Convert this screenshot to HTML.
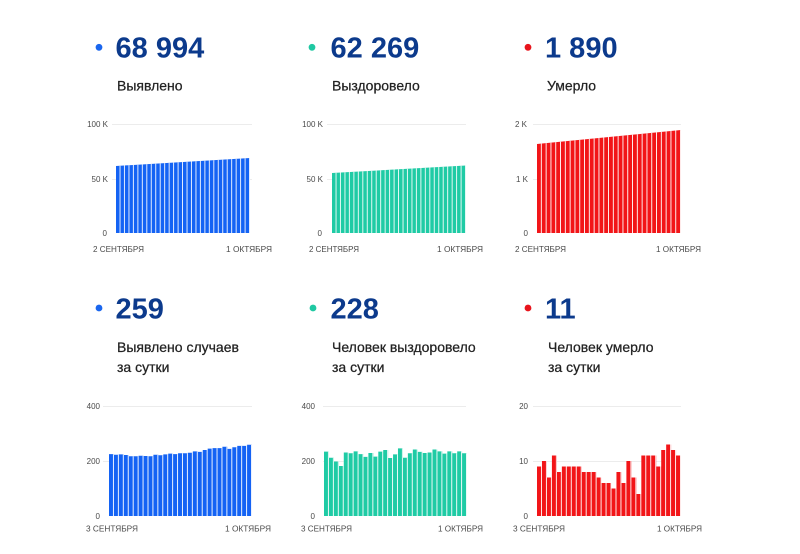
<!DOCTYPE html>
<html>
<head>
<meta charset="utf-8">
<style>
  html,body{margin:0;padding:0;background:#fff;}
  svg{display:block;}
  .num{font-family:"Liberation Sans",Arial,sans-serif;font-weight:bold;font-size:29px;fill:#0c3a8c;}
  .lbl{font-family:"Liberation Sans",Arial,sans-serif;font-size:14px;fill:#222;stroke:#222;stroke-width:0.25px;}
  .tk{font-family:"Liberation Sans",Arial,sans-serif;font-size:8px;fill:#4a4a4a;}
  .grid{stroke:#ececec;stroke-width:1;}
</style>
</head>
<body>
<svg width="800" height="554" viewBox="0 0 800 554" xmlns="http://www.w3.org/2000/svg">
  <defs>
    <pattern id="pB1" patternUnits="userSpaceOnUse" x="116" y="0" width="4.4667" height="554"><rect x="3.6" y="0" width="0.87" height="554" fill="#fff"/></pattern>
    <pattern id="pG1" patternUnits="userSpaceOnUse" x="332" y="0" width="4.4667" height="554"><rect x="3.6" y="0" width="0.87" height="554" fill="#fff"/></pattern>
    <pattern id="pR1" patternUnits="userSpaceOnUse" x="537" y="0" width="4.8" height="554"><rect x="3.9" y="0" width="0.9" height="554" fill="#fff"/></pattern>
    <pattern id="pB2" patternUnits="userSpaceOnUse" x="109" y="0" width="4.931" height="554"><rect x="4.03" y="0" width="0.9" height="554" fill="#fff"/></pattern>
    <pattern id="pG2" patternUnits="userSpaceOnUse" x="324" y="0" width="4.931" height="554"><rect x="4.03" y="0" width="0.9" height="554" fill="#fff"/></pattern>
    <pattern id="pR2" patternUnits="userSpaceOnUse" x="537" y="0" width="4.9655" height="554"><rect x="4.06" y="0" width="0.9" height="554" fill="#fff"/></pattern>

    <path id="b1" d="M116,233 L116,166 L250,158 L250,233 Z"/>
    <path id="g1" d="M332,233 L332,173 L466,165.5 L466,233 Z"/>
    <path id="r1" d="M537,233 L537,144 L681,130 L681,233 Z"/>
    <path id="b2" d="M109,516 V454.1 H113.93 V454.7 H118.86 V454.4 H123.79 V455 H128.72 V456.3 H133.66 V456.3 H138.59 V455.8 H143.52 V456.05 H148.45 V456.3 H153.38 V454.7 H158.31 V455.2 H163.24 V454.4 H168.17 V453.6 H173.1 V454.1 H178.03 V453.3 H182.97 V453.3 H187.9 V452.75 H192.83 V451.4 H197.76 V451.9 H202.69 V450 H207.62 V448.6 H212.55 V448.1 H217.48 V448.1 H222.41 V446.7 H227.34 V448.9 H232.28 V447.25 H237.21 V445.9 H242.14 V445.9 H247.07 V444.8 H252 V516 Z"/>
    <path id="g2" d="M324,516 V451.65 H328.93 V457.7 H333.86 V461.55 H338.79 V465.95 H343.72 V452.5 H348.66 V453.3 H353.59 V451.4 H358.52 V454.1 H363.45 V456.9 H368.38 V453 H373.31 V456.6 H378.24 V451.65 H383.17 V450 H388.1 V458 H393.03 V454.4 H397.97 V448.35 H402.9 V457.7 H407.83 V453.3 H412.76 V449.45 H417.69 V451.9 H422.62 V453 H427.55 V452.5 H432.48 V449.45 H437.41 V451.4 H442.34 V453.6 H447.28 V451.4 H452.21 V453.3 H457.14 V451.4 H462.07 V453.3 H467 V516 Z"/>
    <path id="r2" d="M537,516 V466.5 H541.97 V461 H546.93 V477.5 H551.9 V455.5 H556.86 V472 H561.83 V466.5 H566.79 V466.5 H571.76 V466.5 H576.73 V466.5 H581.69 V472 H586.66 V472 H591.62 V472 H596.59 V477.5 H601.55 V483 H606.52 V483 H611.49 V488.5 H616.45 V472 H621.42 V483 H626.38 V461 H631.35 V477.5 H636.31 V494 H641.28 V455.5 H646.24 V455.5 H651.21 V455.5 H656.18 V466.5 H661.14 V450 H666.11 V444.5 H671.07 V450 H676.04 V455.5 H681 V516 Z"/>
  </defs>

  <!-- ============ TOP ROW HEADERS ============ -->
  <circle cx="99" cy="47.3" r="3.4" fill="#1a66ee"/>
  <text class="num" x="115.5" y="57.5">68 994</text>
  <text class="lbl" x="117" y="90.5">Выявлено</text>

  <circle cx="312" cy="47.3" r="3.4" fill="#1fc8a2"/>
  <text class="num" x="330.5" y="57.5">62 269</text>
  <text class="lbl" x="332" y="90.5">Выздоровело</text>

  <circle cx="528" cy="47.3" r="3.4" fill="#e8141c"/>
  <text class="num" x="545" y="57.5">1 890</text>
  <text class="lbl" x="547" y="90.5">Умерло</text>

  <!-- ============ TOP CHARTS ============ -->
  <line class="grid" x1="112" y1="124.5" x2="252" y2="124.5"/>
  <line class="grid" x1="112" y1="179.5" x2="252" y2="179.5"/>
  <use href="#b1" fill="#1463f4"/>
  <use href="#b1" fill="url(#pB1)"/>
  <text class="tk" x="108" y="127" text-anchor="end">100 K</text>
  <text class="tk" x="108" y="182" text-anchor="end">50 K</text>
  <text class="tk" x="107" y="236" text-anchor="end">0</text>
  <text class="tk" x="93" y="252" textLength="51" lengthAdjust="spacingAndGlyphs">2 СЕНТЯБРЯ</text>
  <text class="tk" x="226" y="252" textLength="46" lengthAdjust="spacingAndGlyphs">1 ОКТЯБРЯ</text>

  <line class="grid" x1="327" y1="124.5" x2="466" y2="124.5"/>
  <line class="grid" x1="327" y1="179.5" x2="466" y2="179.5"/>
  <use href="#g1" fill="#1fcba5"/>
  <use href="#g1" fill="url(#pG1)"/>
  <text class="tk" x="323" y="127" text-anchor="end">100 K</text>
  <text class="tk" x="323" y="182" text-anchor="end">50 K</text>
  <text class="tk" x="322" y="236" text-anchor="end">0</text>
  <text class="tk" x="309" y="252" textLength="50" lengthAdjust="spacingAndGlyphs">2 СЕНТЯБРЯ</text>
  <text class="tk" x="437" y="252" textLength="46" lengthAdjust="spacingAndGlyphs">1 ОКТЯБРЯ</text>

  <line class="grid" x1="533" y1="124.5" x2="681" y2="124.5"/>
  <line class="grid" x1="533" y1="179.5" x2="681" y2="179.5"/>
  <use href="#r1" fill="#f21518"/>
  <use href="#r1" fill="url(#pR1)"/>
  <text class="tk" x="527" y="127" text-anchor="end">2 K</text>
  <text class="tk" x="528" y="182" text-anchor="end">1 K</text>
  <text class="tk" x="528" y="236" text-anchor="end">0</text>
  <text class="tk" x="515" y="252" textLength="51" lengthAdjust="spacingAndGlyphs">2 СЕНТЯБРЯ</text>
  <text class="tk" x="656" y="252" textLength="45" lengthAdjust="spacingAndGlyphs">1 ОКТЯБРЯ</text>

  <!-- ============ BOTTOM ROW HEADERS ============ -->
  <circle cx="99" cy="308" r="3.4" fill="#1a66ee"/>
  <text class="num" x="115.5" y="318.5">259</text>
  <text class="lbl" x="117" y="352">Выявлено случаев</text>
  <text class="lbl" x="117" y="372">за сутки</text>

  <circle cx="313" cy="308" r="3.4" fill="#1fc8a2"/>
  <text class="num" x="330.5" y="318.5">228</text>
  <text class="lbl" x="332" y="352">Человек выздоровело</text>
  <text class="lbl" x="332" y="372">за сутки</text>

  <circle cx="528" cy="308" r="3.4" fill="#e8141c"/>
  <text class="num" x="545" y="318.5">11</text>
  <text class="lbl" x="548" y="352">Человек умерло</text>
  <text class="lbl" x="548" y="372">за сутки</text>

  <!-- ============ BOTTOM CHARTS ============ -->
  <line class="grid" x1="103" y1="406.5" x2="252" y2="406.5"/>
  <line class="grid" x1="103" y1="461.5" x2="252" y2="461.5"/>
  <use href="#b2" fill="#1463f4"/>
  <use href="#b2" fill="url(#pB2)"/>
  <text class="tk" x="100" y="409" text-anchor="end">400</text>
  <text class="tk" x="100" y="464" text-anchor="end">200</text>
  <text class="tk" x="100" y="519" text-anchor="end">0</text>
  <text class="tk" x="86" y="531.5" textLength="52" lengthAdjust="spacingAndGlyphs">3 СЕНТЯБРЯ</text>
  <text class="tk" x="225" y="531.5" textLength="46" lengthAdjust="spacingAndGlyphs">1 ОКТЯБРЯ</text>

  <line class="grid" x1="323" y1="406.5" x2="466" y2="406.5"/>
  <line class="grid" x1="323" y1="461.5" x2="466" y2="461.5"/>
  <use href="#g2" fill="#1fcba5"/>
  <use href="#g2" fill="url(#pG2)"/>
  <text class="tk" x="315" y="409" text-anchor="end">400</text>
  <text class="tk" x="315" y="464" text-anchor="end">200</text>
  <text class="tk" x="315" y="519" text-anchor="end">0</text>
  <text class="tk" x="301" y="531.5" textLength="51" lengthAdjust="spacingAndGlyphs">3 СЕНТЯБРЯ</text>
  <text class="tk" x="438" y="531.5" textLength="45" lengthAdjust="spacingAndGlyphs">1 ОКТЯБРЯ</text>

  <line class="grid" x1="533" y1="406.5" x2="681" y2="406.5"/>
  <line class="grid" x1="533" y1="461.5" x2="681" y2="461.5"/>
  <use href="#r2" fill="#f21518"/>
  <use href="#r2" fill="url(#pR2)"/>
  <text class="tk" x="528" y="409" text-anchor="end">20</text>
  <text class="tk" x="528" y="464" text-anchor="end">10</text>
  <text class="tk" x="528" y="519" text-anchor="end">0</text>
  <text class="tk" x="513" y="531.5" textLength="52" lengthAdjust="spacingAndGlyphs">3 СЕНТЯБРЯ</text>
  <text class="tk" x="657" y="531.5" textLength="45" lengthAdjust="spacingAndGlyphs">1 ОКТЯБРЯ</text>
</svg>
</body>
</html>
